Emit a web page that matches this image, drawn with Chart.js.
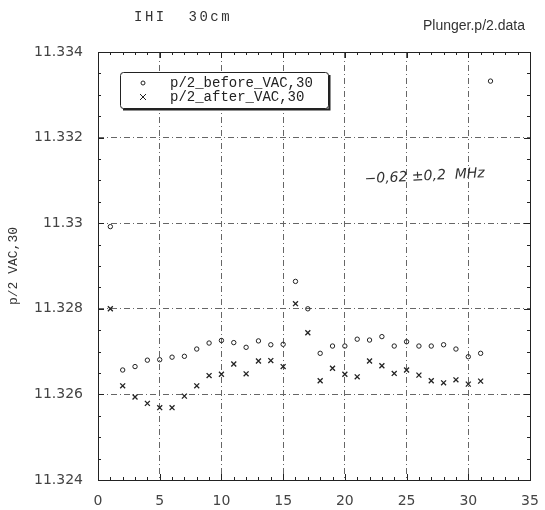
<!DOCTYPE html>
<html>
<head>
<meta charset="utf-8">
<script src="https://cdn.jsdelivr.net/npm/chart.js@4"></script>
<style>
  html, body { margin: 0; padding: 0; background: #fff; }
  #wrap { width: 545px; height: 510px; }
</style>
</head>
<body>
<div id="wrap"><canvas id="myChart" width="545" height="510"></canvas></div>
<script>
// values
var xBefore = [1,2,3,4,5,6,7,8,9,10,11,12,13,14,15,16,17,18,19,20,21,22,23,24,25,26,27,28,29,30,31,31.8];
var before = [11.32992,11.32657,11.32665,11.3268,11.32681,11.32687,11.32689,11.32706,11.3272,11.32726,
  11.32721,11.3271,11.32725,11.32716,11.32717,11.32864,11.328,11.32696,11.32713,11.32713,
  11.32729,11.32727,11.32735,11.32713,11.32723,11.32713,11.32713,11.32716,11.32706,11.32688,
  11.32696,11.33332];
var xAfter = [1,2,3,4,5,6,7,8,9,10,11,12,13,14,15,16,17,18,19,20,21,22,23,24,25,26,27,28,29,30,31];
var after = [11.328,11.3262,11.32594,11.32579,11.32569,11.32569,11.32596,11.3262,11.32644,11.32647,
  11.32671,11.32648,11.32678,11.32679,11.32665,11.32812,11.32744,11.32632,11.32661,11.32647,
  11.32641,11.32678,11.32667,11.32649,11.32657,11.32645,11.32632,11.32627,11.32634,11.32624,
  11.32631];
var seriesNames = ["p/2_before_VAC,30", "p/2_after_VAC,30"];
var xRange = [0, 35], xStep = 5;
var yRange = [11.324, 11.334], yStep = 0.002;

var ink = "#222";
var gridInk = "#666";

function pts(xs, ys) {
  var out = [];
  for (var i = 0; i < ys.length; i++) out.push({x: xs[i], y: ys[i]});
  return out;
}

// frame, small ticks, titles, legend and note
var extras = {
  id: "extras",
  afterDraw: function(chart) {
    var ctx = chart.ctx, a = chart.chartArea;
    var xs = chart.scales.x, ys = chart.scales.y;
    ctx.save();
    ctx.strokeStyle = ink;
    ctx.lineWidth = 1;
    ctx.strokeRect(a.left + 0.5, a.top + 0.5, a.right - a.left, a.bottom - a.top);

    ctx.beginPath();
    for (var v = xRange[0] + 1; v < xRange[1]; v++) {
      var px = Math.round(xs.getPixelForValue(v)) + 0.5;
      var len = (v % 5 == 0) ? 6 : 3;
      ctx.moveTo(px, a.bottom); ctx.lineTo(px, a.bottom - len);
      ctx.moveTo(px, a.top); ctx.lineTo(px, a.top + len);
    }
    for (var k = 1; k < 20; k++) {
      var yv = yRange[0] + k * 0.0005;
      var py = Math.round(ys.getPixelForValue(yv)) + 0.5;
      var ln = (k % 4 == 0) ? 6 : 3;
      ctx.moveTo(a.left, py); ctx.lineTo(a.left + ln, py);
      ctx.moveTo(a.right, py); ctx.lineTo(a.right - ln, py);
    }
    ctx.stroke();

    // titles
    ctx.fillStyle = "#333";
    ctx.textBaseline = "middle";
    ctx.textAlign = "left";
    ctx.font = "14px 'Liberation Mono'";
    ctx.letterSpacing = "2.5px";
    ctx.fillText("IHI  30cm", 134, 17);
    ctx.letterSpacing = "0px";
    ctx.font = "14px 'Liberation Sans'";
    ctx.fillText("Plunger.p/2.data", 423, 26);

    // legend
    var lx = 120, ly = 72, lw = 208, lh = 36;
    ctx.fillStyle = "#fff";
    ctx.fillRect(lx, ly, lw, lh);
    ctx.strokeStyle = ink;
    ctx.lineWidth = 1;
    ctx.beginPath();
    ctx.roundRect(lx + 0.5, ly + 0.5, lw, lh, 3);
    ctx.stroke();
    ctx.lineWidth = 2;
    ctx.beginPath();
    ctx.moveTo(lx + lw + 1.5, ly + 3); ctx.lineTo(lx + lw + 1.5, ly + lh + 1.5); ctx.lineTo(lx + 3, ly + lh + 1.5);
    ctx.stroke();

    ctx.lineWidth = 1;
    ctx.beginPath();
    ctx.arc(143, ly + 11, 2, 0, Math.PI * 2);
    ctx.stroke();
    ctx.beginPath();
    ctx.moveTo(140, ly + 22); ctx.lineTo(146, ly + 28);
    ctx.moveTo(146, ly + 22); ctx.lineTo(140, ly + 28);
    ctx.stroke();
    ctx.fillStyle = ink;
    ctx.font = "14px 'Liberation Mono'";
    ctx.fillText(seriesNames[0], 170, ly + 11);
    ctx.fillText(seriesNames[1], 170, ly + 25);

    // handwritten note
    ctx.save();
    ctx.translate(xs.getPixelForValue(21.6), ys.getPixelForValue(11.33102));
    ctx.rotate(-0.05);
    ctx.font = "italic 14px 'DejaVu Sans'";
    ctx.fillStyle = "#333";
    ctx.fillText("\u22120,62 \u00b10,2  MHz", 0, 0);
    ctx.restore();

    ctx.restore();
  }
};

new Chart("myChart", {
  type: "scatter",
  data: {
    datasets: [{
      label: seriesNames[0],
      data: pts(xBefore, before),
      pointStyle: "circle",
      pointRadius: 2.2,
      borderColor: ink,
      backgroundColor: "rgba(0,0,0,0)",
      borderWidth: 1
    }, {
      label: seriesNames[1],
      data: pts(xAfter, after),
      pointStyle: "crossRot",
      pointRadius: 3.5,
      borderColor: ink,
      borderWidth: 1.3
    }]
  },
  options: {
    responsive: false,
    animation: false,
    layout: { padding: { top: 52, right: 15, bottom: 0, left: 0 } },
    plugins: {
      legend: { display: false },
      tooltip: { enabled: false }
    },
    scales: {
      x: {
        type: "linear",
        min: xRange[0], max: xRange[1],
        ticks: { stepSize: xStep, padding: 0, color: "#444", font: { family: "DejaVu Sans", size: 14 } },
        grid: {
          drawTicks: true,
          tickLength: 13,
          tickColor: "rgba(0,0,0,0)",
          color: function(c) { return (c.tick.value == xRange[0] || c.tick.value == xRange[1]) ? "rgba(0,0,0,0)" : gridInk; }
        },
        border: { display: false, dash: [6, 3, 1, 3] },
        afterFit: function(s) { s.height = 30; }
      },
      y: {
        type: "linear",
        min: yRange[0], max: yRange[1],
        ticks: {
          stepSize: yStep, padding: 15, color: "#444",
          font: { family: "DejaVu Sans", size: 14 },
          callback: function(v) { return String(+v.toFixed(3)); }
        },
        grid: {
          drawTicks: false,
          color: function(c) { return (Math.abs(c.tick.value - yRange[0]) < 1e-7 || Math.abs(c.tick.value - yRange[1]) < 1e-7) ? "rgba(0,0,0,0)" : gridInk; }
        },
        border: { display: false, dash: [6, 3, 1, 3] },
        title: { display: true, text: "p/2 VAC,30", color: "#333", padding: { top: 6, bottom: 0 },
          font: { family: "Liberation Mono", size: 13 } },
        afterFit: function(s) { s.width = 98; }
      }
    }
  },
  plugins: [extras]
});
</script>
</body>
</html>
